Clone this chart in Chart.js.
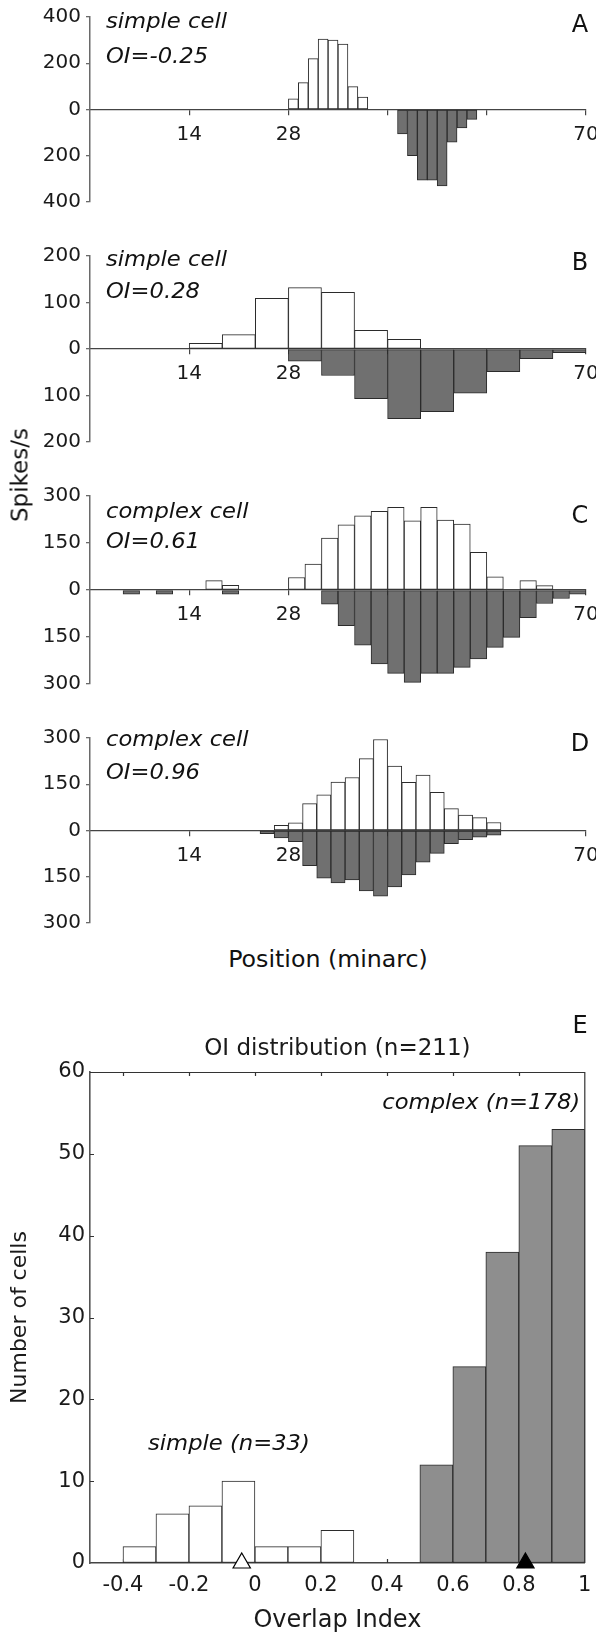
<!DOCTYPE html>
<html>
<head>
<meta charset="utf-8">
<title>Overlap index of ON and OFF subregions</title>
<script src="https://cdn.jsdelivr.net/npm/chart.js@4.4.1/dist/chart.umd.min.js"></script>
<style>
  body { margin: 0; background: #fff; }
  #figure { position: relative; width: 596px; height: 1635px; overflow: hidden;
            font-family: 'DejaVu Sans', sans-serif; color: #111; }
  #figure canvas { position: absolute; left: 0; }
  .txt { position: absolute; white-space: nowrap; line-height: 1; }
  .it { font-style: italic; }
  .ann { font-size: 22px; left: 106px; transform: scaleX(1.03); transform-origin: left top; }
  .letter { font-size: 24px; left: 567px; width: 26px; text-align: center; }
</style>
</head>
<body>
<div id="figure">
  <canvas id="panelA" width="596" height="230" style="top:0px"></canvas>
  <canvas id="panelB" width="596" height="240" style="top:230px"></canvas>
  <canvas id="panelC" width="596" height="240" style="top:470px"></canvas>
  <canvas id="panelD" width="596" height="230" style="top:710px"></canvas>
  <canvas id="panelE" width="596" height="645" style="top:990px"></canvas>

  <div class="txt it ann" style="top:9.9px">simple cell</div>
  <div class="txt it ann" style="top:44.7px">OI=-0.25</div>
  <div class="txt it ann" style="top:248.3px">simple cell</div>
  <div class="txt it ann" style="top:280.4px">OI=0.28</div>
  <div class="txt it ann" style="top:500.4px">complex cell</div>
  <div class="txt it ann" style="top:530.4px">OI=0.61</div>
  <div class="txt it ann" style="top:728.4px">complex cell</div>
  <div class="txt it ann" style="top:761.4px">OI=0.96</div>

  <div class="txt letter" style="top:12px">A</div>
  <div class="txt letter" style="top:250px">B</div>
  <div class="txt letter" style="top:503px">C</div>
  <div class="txt letter" style="top:731px">D</div>
  <div class="txt letter" style="top:1012.5px">E</div>

  <div class="txt" style="font-size:23px; left:20px; top:475px; transform:translate(-50%,-50%) rotate(-90deg)">Spikes/s</div>
  <div class="txt" style="font-size:23px; left:328px; top:947.9px; transform:translateX(-50%) scaleX(1.03)">Position (minarc)</div>
  <div class="txt it" style="font-size:22px; right:16px; top:1090.9px; transform:scaleX(1.03); transform-origin:right top">complex (n=178)</div>
  <div class="txt it" style="font-size:22px; left:148px; top:1432.4px; transform:scaleX(1.03); transform-origin:left top">simple (n=33)</div>
</div>

<script>
// ---------------- data ----------------
// x axis shared by panels A-D (minarc)
const positionTicks = [14, 28, 42, 56, 70];
const positionTickLabels = ['14', '28', '', '', '70'];

// A: simple cell, 1.4 minarc bins (bin index -> rate, spikes/s)
const aBinWidth = 1.4;
const aOnBins = [20, 21, 22, 23, 24, 25, 26, 27];
const aOnRates = [46, 116, 220, 304, 300, 283, 99, 54];
const aOffBins = [31, 32, 33, 34, 35, 36, 37, 38];
const aOffRates = [106, 200, 306, 306, 330, 141, 80, 43];
const aRateTicks = [-400, -200, 0, 200, 400];
const aRateLabels = ['400', '200', '0', '200', '400'];

// B: simple cell, 14/3 minarc bins
const bBinWidth = 14 / 3;
const bOnBins = [3, 4, 5, 6, 7, 8, 9];
const bOnRates = [12, 31, 109, 132, 122, 40, 21];
const bOffBins = [6, 7, 8, 9, 10, 11, 12, 13, 14];
const bOffRates = [26, 57, 107, 150, 135, 95, 49, 21, 8];
const bRateTicks = [-200, -100, 0, 100, 200];
const bRateLabels = ['200', '100', '0', '100', '200'];

// C: complex cell, 14/6 minarc bins
const cBinWidth = 14 / 6;
const cOnBins = [7, 8, 12, 13, 14, 15, 16, 17, 18, 19, 20, 21, 22, 23, 24, 26, 27];
const cOnRates = [30, 15, 40, 83, 166, 208, 237, 251, 264, 221, 264, 223, 210, 120, 42, 30, 14];
const cOffBins = [2, 4, 8, 14, 15, 16, 17, 18, 19, 20, 21, 22, 23, 24, 25, 26, 27, 28, 29];
const cOffRates = [13, 13, 13, 45, 114, 176, 236, 266, 295, 266, 266, 247, 220, 183, 151, 88, 43, 27, 13];
const cRateTicks = [-300, -150, 0, 150, 300];
const cRateLabels = ['300', '150', '0', '150', '300'];

// D: complex cell, 2 minarc bins
const dBinWidth = 2;
const dOnBins = [13, 14, 15, 16, 17, 18, 19, 20, 21, 22, 23, 24, 25, 26, 27, 28];
const dOnRates = [17, 25, 87, 116, 157, 172, 233, 295, 209, 156, 180, 124, 71, 50, 42, 26];
const dOffBins = [12, 13, 14, 15, 16, 17, 18, 19, 20, 21, 22, 23, 24, 25, 26, 27, 28];
const dOffRates = [10, 24, 36, 114, 155, 170, 160, 196, 213, 183, 144, 103, 74, 43, 30, 22, 15];
const dRateTicks = [-300, -150, 0, 150, 300];
const dRateLabels = ['300', '150', '0', '150', '300'];

// E: overlap index histogram
const oiBinWidth = 0.1;
const simpleBinStarts = [-0.4, -0.3, -0.2, -0.1, 0, 0.1, 0.2];
const simpleCounts = [2, 6, 7, 10, 2, 2, 4];
const complexBinStarts = [0.5, 0.6, 0.7, 0.8, 0.9];
const complexCounts = [12, 24, 38, 51, 53];
const oiTicks = [-0.4, -0.2, 0, 0.2, 0.4, 0.6, 0.8, 1];
const oiTickLabels = ['-0.4', '-0.2', '0', '0.2', '0.4', '0.6', '0.8', '1'];
const countTicks = [0, 10, 20, 30, 40, 50, 60];
const simpleMedian = -0.04;
const complexMedian = 0.82;

// ---------------- styling ----------------
const FONT = 'DejaVu Sans';
const INK = '#1a1a1a';
const AXIS = '#6a6a6a';
const EDGE = '#2b2b2b';
const OFF_FILL = '#707070';
const COMPLEX_FILL = '#8e8e8e';

Chart.defaults.font.family = FONT;
Chart.defaults.color = INK;

function binBars(bins, rates, width, sign) {
    return bins.map((b, i) => ({ x: (b + 0.5) * width, y: sign * rates[i] }));
}

function fixedTicks(values) {
    return (scale) => { scale.ticks = values.map(v => ({ value: v })); };
}

/**
 * One response panel (ON bars up, OFF bars down)
 */
function responsePanel(id, p) {
    const barStyle = { borderColor: EDGE, borderWidth: 1, borderSkipped: false,
                       grouped: false, barPercentage: 1, categoryPercentage: 1 };
    return new Chart(document.getElementById(id), {
        type: 'bar',
        data: {
            datasets: [
                { ...barStyle, data: binBars(p.onBins, p.onRates, p.binWidth, 1), backgroundColor: '#ffffff' },
                { ...barStyle, data: binBars(p.offBins, p.offRates, p.binWidth, -1), backgroundColor: OFF_FILL }
            ]
        },
        options: {
            responsive: false,
            animation: false,
            devicePixelRatio: 1,
            events: [],
            layout: { padding: { top: p.padTop, bottom: p.padBottom, left: 0, right: 10 } },
            plugins: { legend: { display: false }, tooltip: { enabled: false } },
            scales: {
                x: {
                    type: 'linear', position: { y: 0 }, min: 0, max: 70, offset: false,
                    afterBuildTicks: fixedTicks(positionTicks),
                    afterFit: (s) => { s.paddingLeft = 0; s.paddingRight = 0; },
                    grid: { drawOnChartArea: false, offset: false, tickLength: 5, color: '#444', lineWidth: 1.2 },
                    border: { color: '#444', width: 1.3 },
                    ticks: { autoSkip: false, maxRotation: 0, padding: 8, color: INK,
                             font: { size: 20 }, callback: (v, i) => positionTickLabels[i] }
                },
                y: {
                    min: p.rateTicks[0], max: p.rateTicks[p.rateTicks.length - 1],
                    afterBuildTicks: fixedTicks(p.rateTicks),
                    afterFit: (s) => { s.width = 90; },
                    grid: { drawOnChartArea: false, tickLength: 4, color: AXIS, lineWidth: 1.3 },
                    border: { color: AXIS, width: 1.5 },
                    ticks: { padding: 5, color: INK, font: { size: 20 },
                             callback: (v, i) => p.rateLabels[i] }
                }
            }
        }
    });
}

responsePanel('panelA', { binWidth: aBinWidth, onBins: aOnBins, onRates: aOnRates, offBins: aOffBins,
    offRates: aOffRates, rateTicks: aRateTicks, rateLabels: aRateLabels, padTop: 15, padBottom: 28 });
responsePanel('panelB', { binWidth: bBinWidth, onBins: bOnBins, onRates: bOnRates, offBins: bOffBins,
    offRates: bOffRates, rateTicks: bRateTicks, rateLabels: bRateLabels, padTop: 26, padBottom: 28 });
responsePanel('panelC', { binWidth: cBinWidth, onBins: cOnBins, onRates: cOnRates, offBins: cOffBins,
    offRates: cOffRates, rateTicks: cRateTicks, rateLabels: cRateLabels, padTop: 26, padBottom: 26 });
responsePanel('panelD', { binWidth: dBinWidth, onBins: dOnBins, onRates: dOnRates, offBins: dOffBins,
    offRates: dOffRates, rateTicks: dRateTicks, rateLabels: dRateLabels, padTop: 28, padBottom: 16 });

// Box frame and inward tick marks of the histogram
const histogramFrame = {
    id: 'histogramFrame',
    beforeDatasetsDraw(chart) {
        const { ctx, chartArea: a, scales: { x, y } } = chart;
        ctx.save();
        ctx.strokeStyle = '#333';
        ctx.lineWidth = 1.2;
        ctx.beginPath();
        oiTicks.slice(0, -1).forEach(v => {
            const px = Math.round(x.getPixelForValue(v)) + 0.5;
            ctx.moveTo(px, a.bottom); ctx.lineTo(px, a.bottom - 4);
            ctx.moveTo(px, a.top); ctx.lineTo(px, a.top + 4);
        });
        countTicks.slice(1, -1).forEach(v => {
            const py = Math.round(y.getPixelForValue(v)) + 0.5;
            ctx.moveTo(a.left, py); ctx.lineTo(a.left + 4, py);
        });
        ctx.stroke();
        ctx.restore();
    },
    afterDatasetsDraw(chart) {
        const { ctx, chartArea: a } = chart;
        ctx.save();
        ctx.strokeStyle = '#333';
        ctx.lineWidth = 1.2;
        ctx.beginPath();
        ctx.moveTo(a.left, Math.round(a.top) + 0.5);
        ctx.lineTo(a.right, Math.round(a.top) + 0.5);
        ctx.lineTo(a.right, a.bottom);
        ctx.stroke();
        ctx.restore();
    }
};

const histStyle = { borderColor: EDGE, borderWidth: 1, borderSkipped: false,
                    grouped: false, barPercentage: 1, categoryPercentage: 1 };

new Chart(document.getElementById('panelE'), {
    type: 'bar',
    data: {
        datasets: [
            { type: 'scatter', order: -1, clip: false, pointStyle: 'triangle', pointRadius: 10,
              borderColor: '#000', borderWidth: 1.2, backgroundColor: ['#ffffff', '#000000'],
              data: [{ x: simpleMedian, y: 0 }, { x: complexMedian, y: 0 }] },
            { ...histStyle, backgroundColor: '#ffffff',
              data: simpleBinStarts.map((s, i) => ({ x: s + oiBinWidth / 2, y: simpleCounts[i] })) },
            { ...histStyle, backgroundColor: COMPLEX_FILL,
              data: complexBinStarts.map((s, i) => ({ x: s + oiBinWidth / 2, y: complexCounts[i] })) }
        ]
    },
    options: {
        responsive: false,
        animation: false,
        devicePixelRatio: 1,
        events: [],
        layout: { padding: { top: 0, bottom: 0, left: 0, right: 9 } },
        plugins: {
            legend: { display: false },
            tooltip: { enabled: false },
            title: { display: true, text: 'OI distribution (n=211)', fullSize: false, color: INK,
                     font: { size: 23, weight: 'normal' }, padding: { top: 45.2, bottom: 9.2 } }
        },
        scales: {
            x: {
                type: 'linear', position: 'bottom', min: -0.5, max: 1, offset: false,
                afterBuildTicks: fixedTicks(oiTicks),
                afterFit: (s) => { s.height = 72; s.paddingLeft = 0; s.paddingRight = 0; },
                grid: { drawOnChartArea: false, drawTicks: false, offset: false },
                border: { color: '#444', width: 1.5 },
                ticks: { autoSkip: false, maxRotation: 0, padding: 10.4, color: INK,
                         font: { size: 21 }, callback: (v, i) => oiTickLabels[i] },
                title: { display: true, text: 'Overlap Index', color: INK,
                         font: { size: 24 }, padding: { top: 0, bottom: 0 } }
            },
            y: {
                min: 0, max: 60,
                afterBuildTicks: fixedTicks(countTicks),
                afterFit: (s) => { s.width = 90; },
                grid: { drawOnChartArea: false, drawTicks: false },
                border: { color: '#555', width: 1.6 },
                ticks: { padding: 5, color: INK, font: { size: 21 } },
                title: { display: true, text: 'Number of cells', color: INK,
                         font: { size: 22 }, padding: { top: 6.8, bottom: 0 } }
            }
        }
    },
    plugins: [histogramFrame]
});
</script>
</body>
</html>
